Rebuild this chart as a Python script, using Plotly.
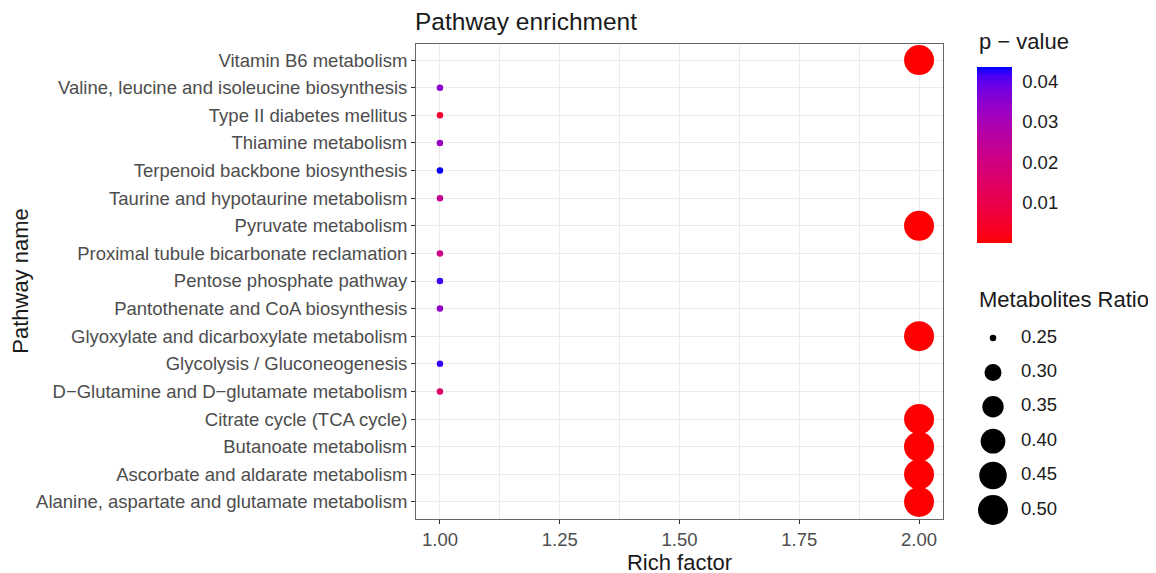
import numpy as np
import plotly.graph_objects as go

# ---------------- data ----------------
pathways = [
    "Vitamin B6 metabolism",
    "Valine, leucine and isoleucine biosynthesis",
    "Type II diabetes mellitus",
    "Thiamine metabolism",
    "Terpenoid backbone biosynthesis",
    "Taurine and hypotaurine metabolism",
    "Pyruvate metabolism",
    "Proximal tubule bicarbonate reclamation",
    "Pentose phosphate pathway",
    "Pantothenate and CoA biosynthesis",
    "Glyoxylate and dicarboxylate metabolism",
    "Glycolysis / Gluconeogenesis",
    "D\u2212Glutamine and D\u2212glutamate metabolism",
    "Citrate cycle (TCA cycle)",
    "Butanoate metabolism",
    "Ascorbate and aldarate metabolism",
    "Alanine, aspartate and glutamate metabolism",
]
rich_factor = [2, 1, 1, 1, 1, 1, 2, 1, 1, 1, 2, 1, 1, 2, 2, 2, 2]
metab_ratio = [0.5, 0.25, 0.25, 0.25, 0.25, 0.25, 0.5, 0.25, 0.25, 0.25,
               0.5, 0.25, 0.25, 0.5, 0.5, 0.5, 0.5]
p_value = [0.0001, 0.035, 0.006, 0.033, 0.0436, 0.024, 0.0001, 0.021, 0.042,
           0.034, 0.0001, 0.042, 0.016, 0.0001, 0.0001, 0.0001, 0.0001]

x_ticks = [1.00, 1.25, 1.50, 1.75, 2.00]
p_ticks = [0.01, 0.02, 0.03, 0.04]
size_legend = [0.25, 0.30, 0.35, 0.40, 0.45, 0.50]

P_MIN, P_MAX = 0.0, 0.0437
R_MIN, R_MAX = 0.25, 0.50

W, H = 1156, 573
OFF = 8  # page body margin of the browser


# -------------- helpers ---------------
def srgb_to_lab(rgb):
    c = np.array(rgb, dtype=float) / 255.0
    c = np.where(c > 0.04045, ((c + 0.055) / 1.055) ** 2.4, c / 12.92)
    M = np.array([[0.4124, 0.3576, 0.1805],
                  [0.2126, 0.7152, 0.0722],
                  [0.0193, 0.1192, 0.9505]])
    xyz = M @ c / np.array([0.95047, 1.0, 1.08883])
    f = np.where(xyz > 0.008856, np.cbrt(xyz), 7.787 * xyz + 16 / 116)
    return np.array([116 * f[1] - 16, 500 * (f[0] - f[1]), 200 * (f[1] - f[2])])


def lab_to_srgb(lab):
    L, a, b = lab
    fy = (L + 16) / 116
    fx = fy + a / 500
    fz = fy - b / 200
    f = np.array([fx, fy, fz])
    xyz = np.where(f ** 3 > 0.008856, f ** 3, (f - 16 / 116) / 7.787)
    xyz = xyz * np.array([0.95047, 1.0, 1.08883])
    Mi = np.array([[3.2406, -1.5372, -0.4986],
                   [-0.9689, 1.8758, 0.0415],
                   [0.0557, -0.2040, 1.0570]])
    c = Mi @ xyz
    c = np.where(c > 0.0031308, 1.055 * np.clip(c, 0, None) ** (1 / 2.4) - 0.055, 12.92 * c)
    c = np.clip(c, 0, 1) * 255
    return "rgb(%d,%d,%d)" % tuple(np.round(c).astype(int))


lab_lo = srgb_to_lab((255, 0, 0))
lab_hi = srgb_to_lab((0, 0, 255))
colorscale = [[t, lab_to_srgb(lab_lo + (lab_hi - lab_lo) * t)]
              for t in np.linspace(0, 1, 21)]


def diam(r):
    # ggplot-like area scale: diameter grows with sqrt of rescaled value
    s = np.sqrt(np.clip((np.asarray(r) - R_MIN) / (R_MAX - R_MIN), 0, 1))
    return 6.5 + 23.5 * s


def px_x(px):
    return (px - OFF) / W


def px_y(py):
    return 1 - (py - OFF) / H


FONT = "Liberation Sans, Arial, sans-serif"
TICK_FS = 18.5
TITLE_FS = 22

# colorbar geometry (screen px)
CB_X0, CB_W, CB_TOP, CB_BOT = 977, 35, 66.7, 242.7

fig = go.Figure()

fig.add_trace(go.Scatter(
    x=rich_factor, y=pathways, mode="markers",
    marker=dict(
        size=diam(metab_ratio), color=p_value, colorscale=colorscale,
        cmin=P_MIN, cmax=P_MAX, opacity=1, line=dict(width=0),
        colorbar=dict(
            thickness=CB_W, thicknessmode="pixels",
            len=CB_BOT - CB_TOP, lenmode="pixels",
            x=px_x(CB_X0), xanchor="left", xref="paper",
            y=px_y(CB_TOP), yanchor="top", yref="paper",
            xpad=0, ypad=0, outlinewidth=0,
            tickvals=p_ticks, ticktext=["%.2f" % v for v in p_ticks],
            ticks="outside", tickcolor="rgba(0,0,0,0)", ticklen=7, tickwidth=1,
            tickfont=dict(family=FONT, size=TICK_FS, color="#1A1A1A"),
        ),
    ),
    showlegend=False, hoverinfo="x+y",
))

# size legend
fig.add_trace(go.Scatter(
    x=[993] * len(size_legend), y=size_legend, mode="markers",
    marker=dict(size=diam(size_legend), color="#000000", opacity=1,
                line=dict(width=0)),
    xaxis="x2", yaxis="y2", showlegend=False, hoverinfo="skip",
))
fig.add_trace(go.Scatter(
    x=[1021] * len(size_legend), y=size_legend, mode="text",
    text=["%.2f" % v for v in size_legend], textposition="middle right",
    textfont=dict(family=FONT, size=TICK_FS, color="#1A1A1A"),
    xaxis="x2", yaxis="y2", showlegend=False, hoverinfo="skip",
))

# y range of legend axis so 0.25 -> 338px and 0.50 -> 510px
leg_top_px, leg_bot_px = 320, 530
per_px = (0.50 - 0.25) / (510 - 338)
y2_top = 0.25 - (338 - leg_top_px) * per_px
y2_bot = 0.25 + (leg_bot_px - 338) * per_px

# white tick marks on both edges of the colour bar
shapes = []
for v in p_ticks:
    py = CB_BOT - (v - P_MIN) / (P_MAX - P_MIN) * (CB_BOT - CB_TOP)
    for xa, xb in ((CB_X0, CB_X0 + 6), (CB_X0 + CB_W - 6, CB_X0 + CB_W)):
        shapes.append(dict(type="line", xref="paper", yref="paper",
                           x0=px_x(xa), x1=px_x(xb),
                           y0=px_y(py), y1=px_y(py),
                           line=dict(color="white", width=1), layer="above"))

grid = "#EBEBEB"
fig.update_layout(
    width=W, height=H,
    margin=dict(l=0, r=0, t=0, b=0, autoexpand=False),
    paper_bgcolor="white", plot_bgcolor="white",
    font=dict(family=FONT, color="#1A1A1A"),
    title=dict(text="Pathway enrichment", x=px_x(415), xanchor="left",
               y=px_y(12.5), yanchor="top", xref="paper", yref="paper",
               font=dict(size=24.5, color="#1A1A1A")),
    xaxis=dict(
        domain=[px_x(416), px_x(943)], range=[0.95, 2.05],
        tickvals=x_ticks, ticktext=["%.2f" % v for v in x_ticks],
        tickfont=dict(size=TICK_FS, color="#4D4D4D"),
        ticks="outside", ticklen=4, tickcolor="#333333", tickwidth=1,
        showgrid=True, gridcolor=grid, gridwidth=1.1,
        minor=dict(dtick=0.25, tick0=1.125, showgrid=True, gridcolor=grid,
                   gridwidth=0.6, ticks=""),
        showline=True, mirror=True, linecolor="#666666", linewidth=1,
        zeroline=False, automargin=False,
        title=dict(text="Rich factor", font=dict(size=TITLE_FS, color="#1A1A1A"),
                   standoff=0),
    ),
    yaxis=dict(
        domain=[px_y(518.5), px_y(43.5)],
        type="category", categoryorder="array",
        categoryarray=pathways[::-1], range=[-0.6, len(pathways) - 0.4],
        tickfont=dict(size=TICK_FS, color="#4D4D4D"),
        ticks="outside", ticklen=4, tickcolor="#333333", tickwidth=1,
        showgrid=True, gridcolor=grid, gridwidth=1.1,
        showline=True, mirror=True, linecolor="#666666", linewidth=1,
        zeroline=False, automargin=False,
        title=dict(text="Pathway name", font=dict(size=TITLE_FS, color="#1A1A1A"),
                   standoff=8),
    ),
    xaxis2=dict(domain=[px_x(960), px_x(W)], range=[960, W], visible=False,
                anchor="y2", fixedrange=True),
    yaxis2=dict(domain=[px_y(leg_bot_px), px_y(leg_top_px)],
                range=[y2_bot, y2_top], visible=False, anchor="x2",
                fixedrange=True),
    shapes=shapes,
    annotations=[
        dict(text="p \u2212 value", x=px_x(977), y=px_y(42), xref="paper",
             yref="paper", xanchor="left", yanchor="middle", showarrow=False,
             font=dict(size=TITLE_FS, color="#1A1A1A")),
        dict(text="Metabolites Ratio", x=px_x(977), y=px_y(299),
             xref="paper", yref="paper", xanchor="left", yanchor="middle",
             showarrow=False, font=dict(size=TITLE_FS, color="#1A1A1A")),
    ],
)

fig.write_html("out.html")
